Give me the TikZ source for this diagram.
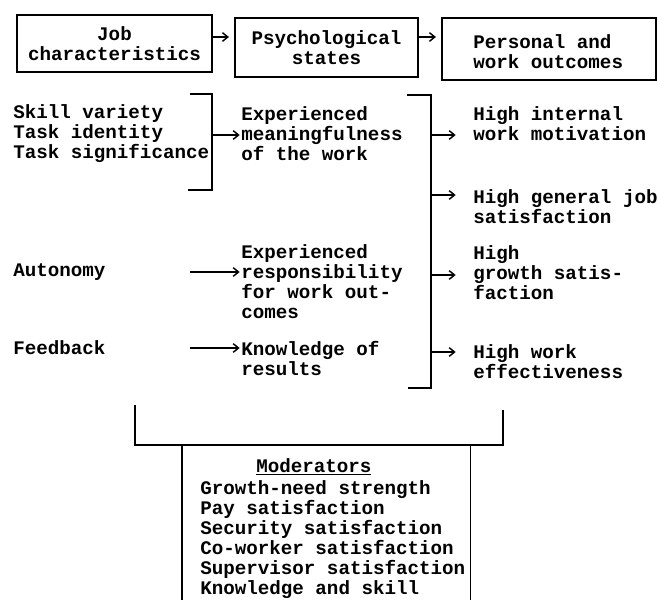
\documentclass[tikz,border=0pt]{standalone}
\usepackage{fontspec}
\setmonofont{Liberation Mono}
\usetikzlibrary{arrows.meta}
\begin{document}
\begin{tikzpicture}[x=0.75pt,y=-0.75pt,
  txt/.style={font=\ttfamily\bfseries\fontsize{14.4}{15}\selectfont, inner sep=0pt, align=left, anchor=west},
  hbox/.style={draw, line width=1.1pt, inner sep=0pt, align=center, font=\ttfamily\bfseries\fontsize{14.4}{15}\selectfont},
  arr/.style={line width=1.1pt, -{Straight Barb[length=4pt,width=6.5pt,line width=1.1pt]}},
  ln/.style={line width=1.3pt}]
\useasboundingbox[fill=white] (0,0) rectangle (658,600);

% header boxes
\node[hbox, minimum width=146.25pt, minimum height=42.75pt] (b1) at (114.5,43.5) {Job\\characteristics};
\node[hbox, minimum width=137.25pt, minimum height=44.25pt] (b2) at (326.5,47.5) {Psychological\\states};
\node[hbox, minimum width=160.5pt, minimum height=46.5pt] (b3) at (549,49) {};
\node[txt] (b3t) at (473,52) {Personal and\\work outcomes};
\coordinate (h1) at (212,37);
\coordinate (h2) at (418,37);
\draw[arr, shorten >=4pt] (h1) -- (h1 -| b2.west);
\draw[arr, shorten >=4pt] (h2) -- (h2 -| b3.west);

% job characteristics
\node[txt] (jc1) at (13,134) {Skill variety\\Task identity\\Task significance};
\node[txt] (auto) at (13,272) {Autonomy};
\node[txt] (feed) at (13,348) {Feedback};

% psychological states
\node[txt] (ps1) at (241,134) {Experienced\\meaningfulness\\of the work};
\node[txt] (ps2) at (241,282) {Experienced\\responsibility\\for work out-\\comes};
\node[txt] (ps3) at (241,358) {Knowledge of\\results};

% outcomes
\node[txt] (o1) at (473,124) {High internal\\work motivation};
\node[txt] (o2) at (473,207) {High general job\\satisfaction};
\node[txt] (o3) at (473,273) {High\\growth satis-\\faction};
\node[txt] (o4) at (473,362) {High work\\effectiveness};

% left bracket
\coordinate (L1a) at (190,94);
\coordinate (L1b) at (212,94);
\coordinate (L1c) at (212,190);
\coordinate (L1d) at (188,190);
\coordinate (L1m) at (212,135);
\draw[ln] (L1a) -- (L1b) -- (L1c) -- (L1d);
\draw[arr, shorten >=1pt] (L1m) -- (L1m -| ps1.west);

\coordinate (aS) at (190,272);
\coordinate (fS) at (190,348);
\draw[arr, shorten >=1pt] (aS) -- (aS -| ps2.west);
\draw[arr, shorten >=1pt] (fS) -- (fS -| ps3.west);

% right bracket
\coordinate (R1a) at (407,95);
\coordinate (R1b) at (431,95);
\coordinate (R1c) at (431,388);
\coordinate (R1d) at (408,388);
\draw[ln] (R1a) -- (R1b) -- (R1c) -- (R1d);
\coordinate (r1) at (431,135);
\coordinate (r2) at (431,195);
\coordinate (r3) at (431,275);
\coordinate (r4) at (431,352);
\draw[arr, shorten >=13pt] (r1) -- (r1 -| o1.west);
\draw[arr, shorten >=13pt] (r2) -- (r2 -| o2.west);
\draw[arr, shorten >=13pt] (r3) -- (r3 -| o3.west);
\draw[arr, shorten >=13pt] (r4) -- (r4 -| o4.west);

% moderators
\coordinate (M1) at (135,405);
\coordinate (M2) at (135,445);
\coordinate (M3) at (503,445);
\coordinate (M4) at (503,410);
\draw[ln] (M1) -- (M2) -- (M3) -- (M4);
\node[minimum width=216pt, minimum height=120pt, inner sep=0pt, anchor=north west] (mod) at (182,445) {};
\draw[ln] (mod.north west) -- (mod.south west);
\draw[ln] (mod.north east) -- (mod.south east);
\node[txt] (modh) at (256,467) {\underline{Moderators}};
\node[txt] (modl) at (200,539.5) {Growth-need strength\\Pay satisfaction\\Security satisfaction\\Co-worker satisfaction\\Supervisor satisfaction\\Knowledge and skill};
\end{tikzpicture}
\end{document}
